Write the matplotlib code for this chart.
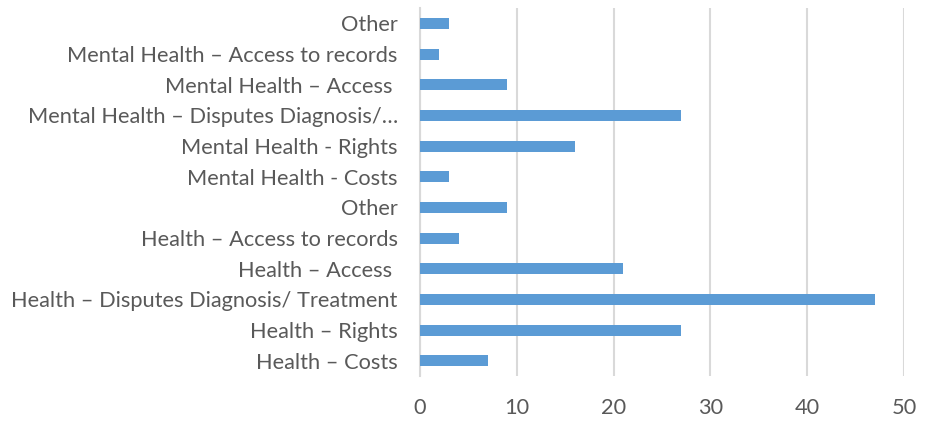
import matplotlib.pyplot as plt

categories = [
    "Health – Costs",
    "Health – Rights",
    "Health – Disputes Diagnosis/ Treatment",
    "Health – Access ",
    "Health – Access to records",
    "Other",
    "Mental Health - Costs",
    "Mental Health - Rights",
    "Mental Health – Disputes Diagnosis/…",
    "Mental Health – Access ",
    "Mental Health – Access to records",
    "Other",
]
counts = [7, 27, 47, 21, 4, 9, 3, 16, 27, 9, 2, 3]
xticks = [0, 10, 20, 30, 40, 50]

plt.rcParams['font.family'] = ['Lato', 'DejaVu Sans']
text_col = '#595959'

fig = plt.figure(figsize=(9.3, 4.29), dpi=100)
ax = fig.add_axes([0.4516, 0.1235, 0.5204, 0.8575])

ypos = range(len(categories))
ax.barh(ypos, counts, height=0.36, color='#5B9BD5', zorder=3)

ax.set_xlim(0, 50)
ax.set_ylim(-0.5, len(categories) - 0.5)
ax.set_xticks(xticks)
ax.set_yticks(list(ypos))
ax.set_yticklabels(categories)
ax.tick_params(axis='both', length=0, labelsize=15.7, labelcolor=text_col)
ax.tick_params(axis='y', pad=16)
ax.tick_params(axis='x', pad=16)

ax.grid(axis='x', color='#D9D9D9', linewidth=1.5, zorder=0)
for s in ['top', 'right', 'bottom']:
    ax.spines[s].set_visible(False)
ax.spines['left'].set_color('#D9D9D9')
ax.spines['left'].set_linewidth(1.5)

plt.savefig("out.png", dpi=100)
